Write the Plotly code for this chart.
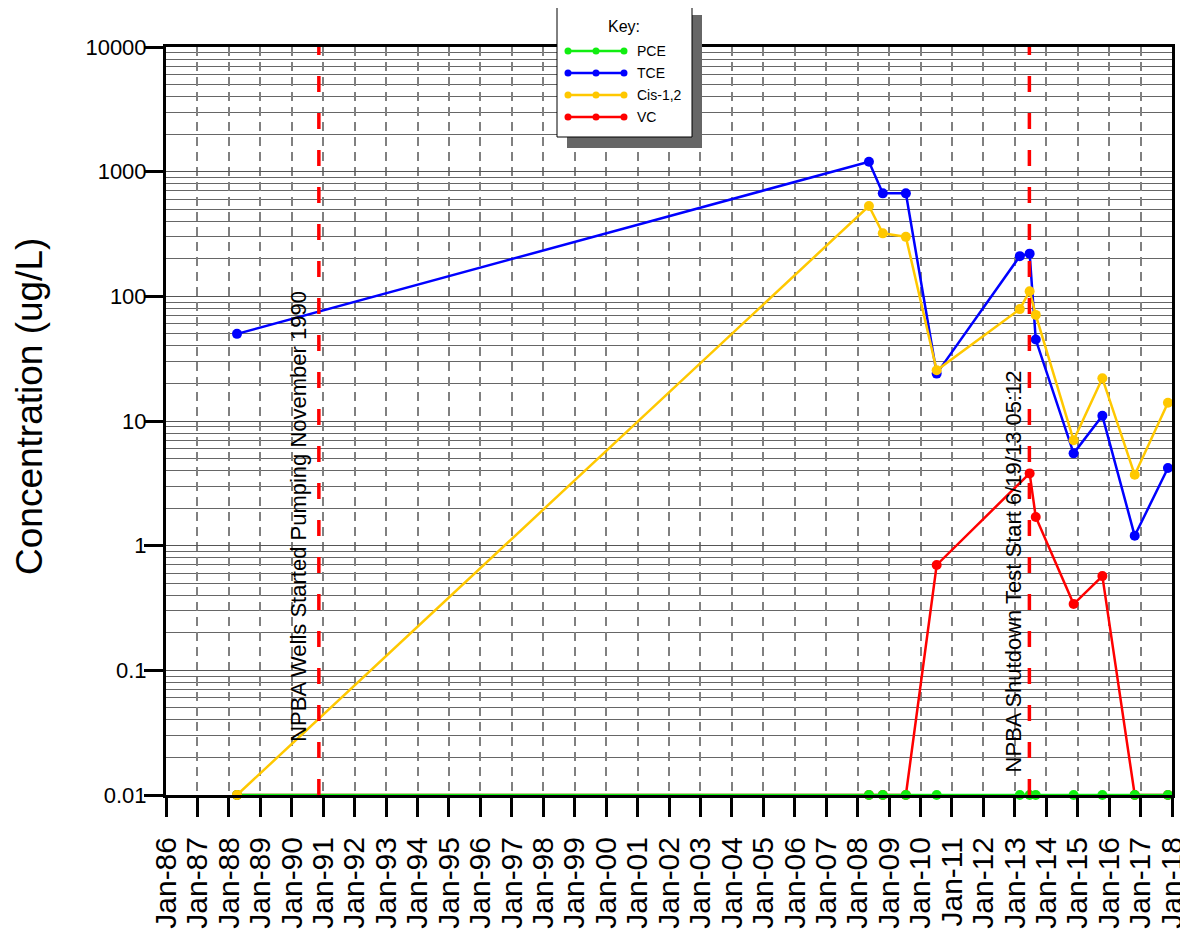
import plotly.graph_objects as go

# ---------------- data ----------------
sample_dates = ['1988-04-05', '2008-05-12', '2008-10-20', '2009-07-15', '2010-07-08',
                '2013-02-28', '2013-06-22', '2013-09-01', '2014-11-15', '2015-10-15',
                '2016-10-25', '2017-11-15']
pce = [0.01, 0.01, 0.01, 0.01, 0.01, 0.01, 0.01, 0.01, 0.01, 0.01, 0.01, 0.01]
tce = [50, 1200, 670, 670, 24, 210, 220, 45, 5.5, 11, 1.2, 4.2]
cis = [0.01, 530, 320, 300, 25.5, 79, 110, 71, 7.0, 22, 3.7, 14]
vc = [0.01, 0.01, 0.01, 0.01, 0.7, None, 3.8, 1.7, 0.34, 0.57, 0.01, 0.01]

series_names = ['PCE', 'TCE', 'Cis-1,2', 'VC']
series_colors = ['#11ee11', '#0000ff', '#ffc800', '#ff0000']

event_dates = ['1990-11-12', '2013-06-19']
event_labels = ['NPBA Wells Started Pumping November 1990',
                'NPBA Shutdown Test Start 6/19/13 05:12']

ytick_vals = [0.01, 0.1, 1, 10, 100, 1000, 10000]
ytick_text = ['0.01', '0.1', '1', '10', '100', '1000', '10000']

# ---------------- layout helpers ----------------
# page body has an 8px default margin, so the figure is offset by 8px
OFF = 8
W, H = 1188 - OFF, 934 - OFF
PL, PT, PR, PB = 166, 47, 1172, 795          # plot area in window pixels
L, T = PL - OFF, PT - OFF
R = W - (PR - OFF)
B = H - (PB - OFF)
PW, PH = PR - PL, PB - PT
FONT = 'Liberation Sans, Arial, sans-serif'


def px(x):
    return (x - PL) / PW


def py(y):
    return (PB - y) / PH


fig = go.Figure()

values = {'PCE': pce, 'TCE': tce, 'Cis-1,2': cis, 'VC': vc}
draw_order = ['VC', 'PCE', 'TCE', 'Cis-1,2']
for name in draw_order:
    c = series_colors[series_names.index(name)]
    fig.add_trace(go.Scatter(
        x=sample_dates, y=values[name], name=name, mode='lines+markers',
        connectgaps=True, cliponaxis=False,
        line=dict(color=c, width=2.5),
        marker=dict(color=c, size=10),
        showlegend=False,
    ))

shapes = []
annotations = []

# event lines
for d in event_dates:
    shapes.append(dict(type='line', xref='x', yref='paper', x0=d, x1=d, y0=0, y1=1,
                       line=dict(color='#ff0000', width=3.5, dash='16px,21px'),
                       layer='above'))

annotations.append(dict(text=event_labels[0], x=event_dates[0], xref='x', xshift=-20,
                        y=py(516), yref='paper', textangle=-90, showarrow=False,
                        xanchor='center', yanchor='middle',
                        font=dict(family=FONT, size=22, color='black')))
annotations.append(dict(text=event_labels[1], x=event_dates[1], xref='x', xshift=-16,
                        y=py(571), yref='paper', textangle=-90, showarrow=False,
                        xanchor='center', yanchor='middle',
                        font=dict(family=FONT, size=22, color='black')))

# y title
annotations.append(dict(text='Concentration (ug/L)', x=px(29), xref='paper',
                        y=py(407), yref='paper', textangle=-90, showarrow=False,
                        xanchor='center', yanchor='middle',
                        font=dict(family=FONT, size=37, color='black')))

# custom key box
shapes.append(dict(type='rect', xref='paper', yref='paper', x0=px(567), x1=px(702),
                   y0=py(148), y1=py(15), fillcolor='#666666', line=dict(width=0),
                   layer='above'))
shapes.append(dict(type='rect', xref='paper', yref='paper', x0=px(557), x1=px(692),
                   y0=py(137), y1=py(5), fillcolor='white',
                   line=dict(color='black', width=1), layer='above'))
annotations.append(dict(text='Key:', x=px(624), y=py(27), xref='paper', yref='paper',
                        showarrow=False, xanchor='center', yanchor='middle',
                        font=dict(family=FONT, size=16, color='black')))
item_y = [51, 73, 95, 117]
for name, c, yy in zip(series_names, series_colors, item_y):
    shapes.append(dict(type='line', xref='paper', yref='paper', x0=px(568), x1=px(624),
                       y0=py(yy), y1=py(yy), line=dict(color=c, width=2.5), layer='above'))
    for cx in (568, 596, 624):
        shapes.append(dict(type='circle', xref='paper', yref='paper',
                           x0=px(cx - 3.5), x1=px(cx + 3.5), y0=py(yy + 3.5), y1=py(yy - 3.5),
                           fillcolor=c, line=dict(color=c, width=0), layer='above'))
    annotations.append(dict(text=name, x=px(635), y=py(yy), xref='paper', yref='paper',
                            showarrow=False, xanchor='left', yanchor='middle',
                            font=dict(family=FONT, size=14, color='black')))

minor_vals = [m * 10 ** e for e in range(-2, 4) for m in range(2, 10)]

fig.update_layout(
    width=W, height=H,
    margin=dict(l=L, r=R, t=T, b=B, autoexpand=False),
    paper_bgcolor='white', plot_bgcolor='white',
    font=dict(family=FONT, color='black'),
    shapes=shapes, annotations=annotations,
    showlegend=False,
    xaxis=dict(
        type='date', range=['1986-01-01', '2018-01-01'],
        tick0='1986-01-01', dtick='M12', tickformat='%b-%y',
        tickangle=-90, tickfont=dict(family=FONT, size=30, color='black'),
        ticks='outside', ticklen=19, tickwidth=3, tickcolor='black',
        ticklabelstandoff=8, automargin=False,
        showgrid=True, gridcolor='#808080', gridwidth=2, griddash='9px,6px',
        showline=True, linecolor='black', linewidth=3, mirror=True,
        zeroline=False,
    ),
    yaxis=dict(
        type='log', range=[-2, 4],
        tickvals=ytick_vals, ticktext=ytick_text,
        tickfont=dict(family=FONT, size=22, color='black'),
        ticks='outside', ticklen=19, tickwidth=3, tickcolor='black',
        ticklabelstandoff=-7, automargin=False,
        showgrid=True, gridcolor='#555555', gridwidth=1,
        minor=dict(tickvals=minor_vals, showgrid=True, gridcolor='#666666',
                   gridwidth=1, ticks=''),
        showline=True, linecolor='black', linewidth=3, mirror=True,
        zeroline=False,
    ),
)

fig.write_html('out.html')
